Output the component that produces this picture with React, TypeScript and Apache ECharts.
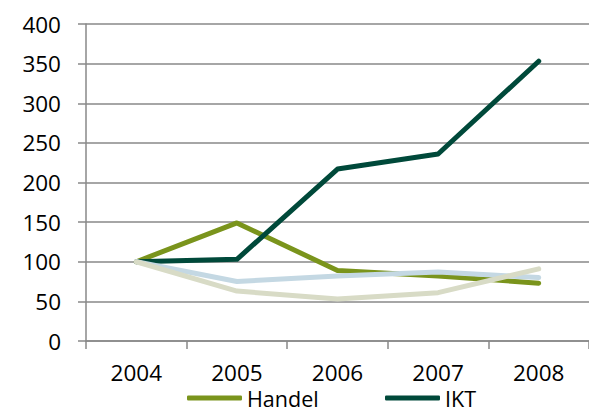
import React, { useEffect, useRef } from "react";
import * as echarts from "echarts";

const years = ["2004", "2005", "2006", "2007", "2008"];
const handel = [100, 149, 89, 82, 73];
const ikt = [100, 103, 217, 236, 353];
const seriesBlue = [100, 75, 82, 87, 80];
const seriesBeige = [100, 63, 53, 61, 91];

const FONT = "Open Sans";
const FS = 22.5;

export default function App() {
  const ref = useRef<HTMLDivElement>(null);
  useEffect(() => {
    const chart = echarts.init(ref.current!, null, { renderer: "svg" });
    const mk = (name: string, data: number[], color: string, z: number) => ({
      name,
      type: "line",
      data,
      symbol: "none",
      z,
      lineStyle: { color, width: 5, cap: "round", join: "round" },
      itemStyle: { color },
    });
    const legendBase = {
      top: 387,
      icon: "roundRect",
      itemWidth: 55,
      itemHeight: 5,
      itemGap: 5,
      textStyle: { fontFamily: FONT, fontSize: 21.5, color: "#000", lineHeight: 20, padding: 0 },
      padding: 0,
    };
    chart.setOption({
      animation: false,
      backgroundColor: "#ffffff",
      textStyle: { fontFamily: FONT },
      grid: { left: 86, top: 24, width: 513, bottom: 71 },
      legend: [
        { ...legendBase, data: ["Handel"], left: 187 },
        { ...legendBase, data: ["IKT"], left: 385 },
      ],
      xAxis: {
        type: "category",
        data: years,
        boundaryGap: true,
        axisLine: { lineStyle: { color: "#898989", width: 1.5 } },
        axisTick: { show: true, length: 8, lineStyle: { color: "#898989", width: 1.5 } },
        axisLabel: { fontFamily: FONT, fontSize: FS, lineHeight: 18, color: "#000", margin: 22 },
      },
      yAxis: {
        type: "value",
        min: 0,
        max: 400,
        interval: 50,
        axisLine: { show: true, lineStyle: { color: "#898989", width: 1.5 } },
        axisTick: { show: true, length: 8, lineStyle: { color: "#898989", width: 1.5 } },
        axisLabel: { fontFamily: FONT, fontSize: FS, color: "#000", margin: 25 },
        splitLine: { show: true, lineStyle: { color: "#898989", width: 1.5 } },
      },
      series: [
        mk("Handel", handel, "#7A941C", 2),
        mk("IKT", ikt, "#00493A", 3),
        mk("Serie 3", seriesBlue, "#C4D8E3", 4),
        mk("Serie 4", seriesBeige, "#D8DBC6", 5),
      ],
    });
    return () => chart.dispose();
  }, []);
  return (
    <div
      ref={ref}
      style={{ position: "fixed", left: 0, top: 0, width: 589, height: 412 }}
    />
  );
}
